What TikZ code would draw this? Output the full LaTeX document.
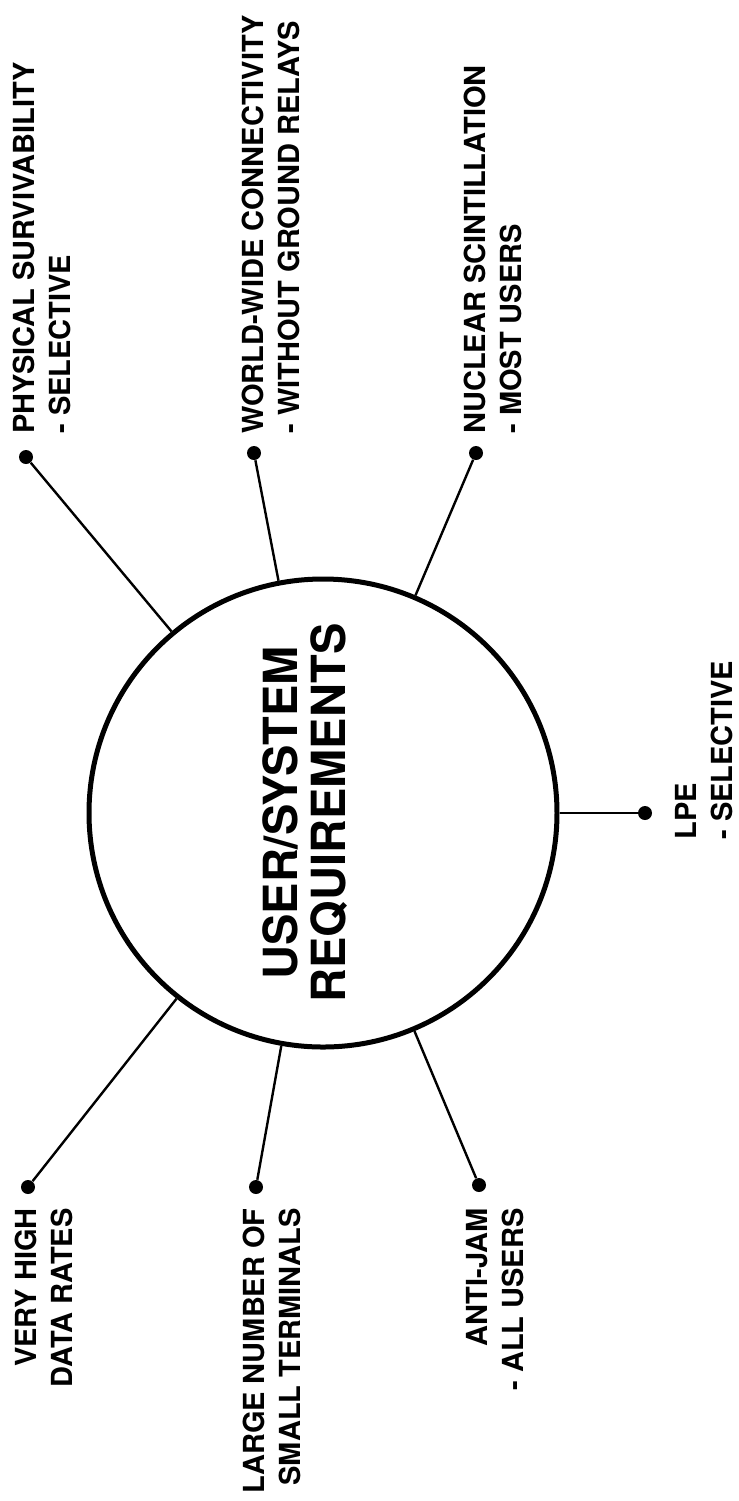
\documentclass[tikz,border=0pt]{standalone}
\usepackage{fontspec}
\setsansfont{TeX Gyre Heros}
\usetikzlibrary{positioning}
\begin{document}
\begin{tikzpicture}[x=0.5pt, y=-0.5pt,
  req/.style={circle, draw, line width=2.5pt, minimum size=234pt, inner sep=0pt},
  dot/.style={circle, fill=black, inner sep=0pt, minimum size=7pt},
  link/.style={line width=1.2pt},
  lab/.style={rotate=90, inner sep=0pt, font=\sffamily\bfseries\fontsize{14.5}{18}\selectfont},
  toplab/.style={lab, anchor=west, align=left},
  botlab/.style={lab, anchor=east, align=right}]
\useasboundingbox (0,0) rectangle (739,1501);
\node[req] (req) at (323,813) {};
\node[rotate=90, align=center, font=\sffamily\bfseries\fontsize{23.5}{24}\selectfont] (reqtext) at (305,813) {USER/SYSTEM\\REQUIREMENTS};
\node[dot] (physdot) at (26,457) {};
\node[dot] (worlddot) at (254,453) {};
\node[dot] (nucdot) at (476,453) {};
\node[dot] (lpedot) at (645,813) {};
\node[dot] (ratedot) at (28,1187) {};
\node[dot] (termdot) at (256,1187) {};
\node[dot] (jamdot) at (479,1185) {};
\foreach \d in {physdot, worlddot, nucdot, lpedot, ratedot, termdot, jamdot}
  \draw[link] (\d) -- (req);
\node[toplab] (phys) at (42,434) {PHYSICAL SURVIVABILITY\\ - SELECTIVE};
\node[toplab] (world) at (271,434) {WORLD-WIDE CONNECTIVITY\\ - WITHOUT GROUND RELAYS};
\node[toplab] (nuc) at (493,434) {NUCLEAR SCINTILLATION\\ - MOST USERS};
\node[toplab] (lpe) at (704,840) {LPE\\ - SELECTIVE};
\node[botlab] (rate) at (44,1208) {VERY HIGH\\DATA RATES};
\node[botlab] (term) at (272,1208) {LARGE NUMBER OF\\SMALL TERMINALS};
\node[botlab] (jam) at (495,1208) {ANTI-JAM\\- ALL USERS};
\end{tikzpicture}
\end{document}
